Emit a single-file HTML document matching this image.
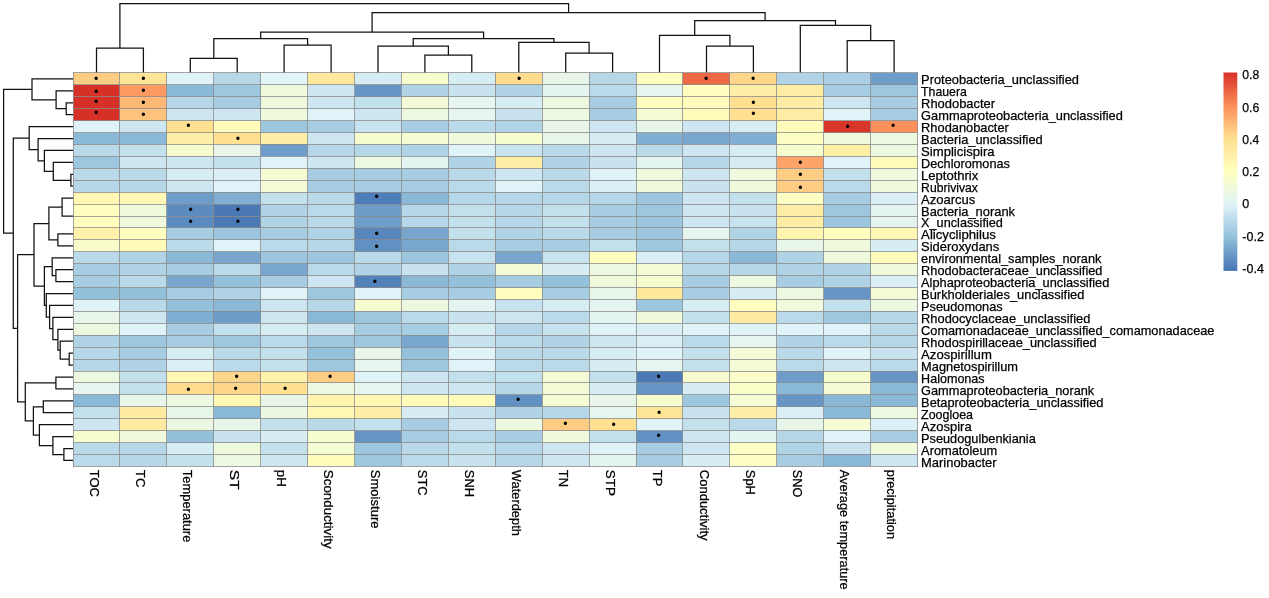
<!DOCTYPE html>
<html><head><meta charset="utf-8"><title>Heatmap</title>
<style>html,body{margin:0;padding:0;background:#fff}svg{display:block}text{font-family:"Liberation Sans",Arial,sans-serif;fill:#000;stroke:#000;stroke-width:0.25px}.d{fill:none;stroke:#111;stroke-width:1.25;stroke-linecap:square}.c rect{stroke:none;shape-rendering:crispEdges}.rl text{font-size:13px}.cl text{font-size:13px}.lg text{font-size:13.1px}.dot text{font-size:12.2px;text-anchor:middle;stroke:none}</style></head><body>
<svg width="1269" height="598" viewBox="0 0 1269 598">
<rect width="1269" height="598" fill="#fff"/>
<path class="d" d="M96.5 72.7V48.2H143.4V72.7M190.3 72.7V58.3H237.2V72.7M284.1 72.7V45.1H331.1V72.7M213.8 58.3V38.5H307.6V45.1M424.9 72.7V55.1H471.8V72.7M378.0 72.7V46.1H448.4V55.1M565.7 72.7V53.1H612.6V72.7M518.8 72.7V42.3H589.1V53.1M413.2 46.1V38.5H554.0V42.3M260.7 38.5V32.2H483.6V38.5M706.5 72.7V46.1H753.4V72.7M659.5 72.7V35.4H729.9V46.1M847.2 72.7V40.6H894.1V72.7M800.3 72.7V25.3H870.7V40.6M694.7 35.4V20.5H835.5V25.3M372.1 32.2V12.5H765.1V20.5M119.9 48.2V3.5H568.6V12.5"/>
<path class="d" d="M72.7 102.8H66.2V114.7H72.7M72.7 90.8H56.1V108.7H66.2M72.7 78.9H32.0V99.8H56.1M72.7 174.3H70.9V186.2H72.7M72.7 162.4H53.3V180.3H70.9M72.7 150.4H44.4V171.3H53.3M72.7 138.5H38.1V160.9H44.4M72.7 126.6H29.2V149.7H38.1M72.7 198.1H62.1V216.0H72.7M72.7 233.9H57.9V245.8H72.7M62.1 207.1H48.9V239.9H57.9M72.7 269.7H55.9V281.6H72.7M72.7 257.8H52.2V275.6H55.9M72.7 353.1H69.2V365.1H72.7M72.7 341.2H60.2V359.1H69.2M72.7 329.3H57.9V350.2H60.2M72.7 317.4H52.9V339.7H57.9M72.7 305.4H49.6V328.5H52.9M72.7 293.5H46.3V317.0H49.6M52.2 266.7H44.4V305.3H46.3M48.9 223.5H34.0V286.0H44.4M72.7 377.0H55.9V388.9H72.7M72.7 400.8H43.3V412.7H72.7M72.7 448.5H63.9V460.4H72.7M72.7 436.6H52.9V454.5H63.9M72.7 424.7H39.4V445.5H52.9M43.3 406.8H33.4V435.1H39.4M55.9 382.9H25.3V420.9H33.4M34.0 254.7H17.6V401.9H25.3M29.2 138.2H13.3V328.3H17.6M32.0 89.3H3.6V233.2H13.3"/>
<g class="c">
<rect x="73.00" y="72.95" width="46.92" height="11.92" fill="#FECC83"/>
<rect x="119.92" y="72.95" width="46.92" height="11.92" fill="#FEE496"/>
<rect x="166.84" y="72.95" width="46.92" height="11.92" fill="#E0F3F8"/>
<rect x="213.77" y="72.95" width="46.92" height="11.92" fill="#B5D7E8"/>
<rect x="260.69" y="72.95" width="46.92" height="11.92" fill="#E2F4F5"/>
<rect x="307.61" y="72.95" width="46.92" height="11.92" fill="#FEE89B"/>
<rect x="354.53" y="72.95" width="46.92" height="11.92" fill="#D6EDF4"/>
<rect x="401.46" y="72.95" width="46.92" height="11.92" fill="#F7FCCF"/>
<rect x="448.38" y="72.95" width="46.92" height="11.92" fill="#D6EDF4"/>
<rect x="495.30" y="72.95" width="46.92" height="11.92" fill="#FEDB8D"/>
<rect x="542.22" y="72.95" width="46.92" height="11.92" fill="#E8F6EA"/>
<rect x="589.14" y="72.95" width="46.92" height="11.92" fill="#B5D7E8"/>
<rect x="636.07" y="72.95" width="46.92" height="11.92" fill="#FFFEBE"/>
<rect x="682.99" y="72.95" width="46.92" height="11.92" fill="#ED6845"/>
<rect x="729.91" y="72.95" width="46.92" height="11.92" fill="#FED689"/>
<rect x="776.83" y="72.95" width="46.92" height="11.92" fill="#B0D3E6"/>
<rect x="823.76" y="72.95" width="46.92" height="11.92" fill="#ABD0E5"/>
<rect x="870.68" y="72.95" width="46.92" height="11.92" fill="#6E9DC9"/>
<rect x="73.00" y="84.87" width="46.92" height="11.92" fill="#D73027"/>
<rect x="119.92" y="84.87" width="46.92" height="11.92" fill="#FC9A61"/>
<rect x="166.84" y="84.87" width="46.92" height="11.92" fill="#8AB8D7"/>
<rect x="213.77" y="84.87" width="46.92" height="11.92" fill="#9DC7DF"/>
<rect x="260.69" y="84.87" width="46.92" height="11.92" fill="#EFF9DC"/>
<rect x="307.61" y="84.87" width="46.92" height="11.92" fill="#CDE6F1"/>
<rect x="354.53" y="84.87" width="46.92" height="11.92" fill="#6594C5"/>
<rect x="401.46" y="84.87" width="46.92" height="11.92" fill="#B0D3E6"/>
<rect x="448.38" y="84.87" width="46.92" height="11.92" fill="#C8E3EF"/>
<rect x="495.30" y="84.87" width="46.92" height="11.92" fill="#B0D3E6"/>
<rect x="542.22" y="84.87" width="46.92" height="11.92" fill="#E4F4F1"/>
<rect x="589.14" y="84.87" width="46.92" height="11.92" fill="#BADAEA"/>
<rect x="636.07" y="84.87" width="46.92" height="11.92" fill="#E6F5EE"/>
<rect x="682.99" y="84.87" width="46.92" height="11.92" fill="#FFFEBE"/>
<rect x="729.91" y="84.87" width="46.92" height="11.92" fill="#FEEFA7"/>
<rect x="776.83" y="84.87" width="46.92" height="11.92" fill="#FEEDA4"/>
<rect x="823.76" y="84.87" width="46.92" height="11.92" fill="#A7CDE3"/>
<rect x="870.68" y="84.87" width="46.92" height="11.92" fill="#9DC7DF"/>
<rect x="73.00" y="96.80" width="46.92" height="11.92" fill="#D73027"/>
<rect x="119.92" y="96.80" width="46.92" height="11.92" fill="#FDB875"/>
<rect x="166.84" y="96.80" width="46.92" height="11.92" fill="#B5D7E8"/>
<rect x="213.77" y="96.80" width="46.92" height="11.92" fill="#A7CDE3"/>
<rect x="260.69" y="96.80" width="46.92" height="11.92" fill="#EFF9DC"/>
<rect x="307.61" y="96.80" width="46.92" height="11.92" fill="#CDE6F1"/>
<rect x="354.53" y="96.80" width="46.92" height="11.92" fill="#C3E0ED"/>
<rect x="401.46" y="96.80" width="46.92" height="11.92" fill="#F3FAD5"/>
<rect x="448.38" y="96.80" width="46.92" height="11.92" fill="#E6F5EE"/>
<rect x="495.30" y="96.80" width="46.92" height="11.92" fill="#D6EDF4"/>
<rect x="542.22" y="96.80" width="46.92" height="11.92" fill="#EDF8E0"/>
<rect x="589.14" y="96.80" width="46.92" height="11.92" fill="#A7CDE3"/>
<rect x="636.07" y="96.80" width="46.92" height="11.92" fill="#FFFEBE"/>
<rect x="682.99" y="96.80" width="46.92" height="11.92" fill="#FFFCBB"/>
<rect x="729.91" y="96.80" width="46.92" height="11.92" fill="#FEE090"/>
<rect x="776.83" y="96.80" width="46.92" height="11.92" fill="#FEEDA4"/>
<rect x="823.76" y="96.80" width="46.92" height="11.92" fill="#CDE6F1"/>
<rect x="870.68" y="96.80" width="46.92" height="11.92" fill="#A7CDE3"/>
<rect x="73.00" y="108.72" width="46.92" height="11.92" fill="#D73027"/>
<rect x="119.92" y="108.72" width="46.92" height="11.92" fill="#FDC27C"/>
<rect x="166.84" y="108.72" width="46.92" height="11.92" fill="#CDE6F1"/>
<rect x="213.77" y="108.72" width="46.92" height="11.92" fill="#CDE6F1"/>
<rect x="260.69" y="108.72" width="46.92" height="11.92" fill="#EFF9DC"/>
<rect x="307.61" y="108.72" width="46.92" height="11.92" fill="#E0F3F8"/>
<rect x="354.53" y="108.72" width="46.92" height="11.92" fill="#CDE6F1"/>
<rect x="401.46" y="108.72" width="46.92" height="11.92" fill="#EDF8E0"/>
<rect x="448.38" y="108.72" width="46.92" height="11.92" fill="#E6F5EE"/>
<rect x="495.30" y="108.72" width="46.92" height="11.92" fill="#C8E3EF"/>
<rect x="542.22" y="108.72" width="46.92" height="11.92" fill="#EDF8E0"/>
<rect x="589.14" y="108.72" width="46.92" height="11.92" fill="#A7CDE3"/>
<rect x="636.07" y="108.72" width="46.92" height="11.92" fill="#F5FBD2"/>
<rect x="682.99" y="108.72" width="46.92" height="11.92" fill="#FFFCBB"/>
<rect x="729.91" y="108.72" width="46.92" height="11.92" fill="#FEE090"/>
<rect x="776.83" y="108.72" width="46.92" height="11.92" fill="#FEEDA4"/>
<rect x="823.76" y="108.72" width="46.92" height="11.92" fill="#E0F3F8"/>
<rect x="870.68" y="108.72" width="46.92" height="11.92" fill="#A7CDE3"/>
<rect x="73.00" y="120.64" width="46.92" height="11.92" fill="#E0F3F8"/>
<rect x="119.92" y="120.64" width="46.92" height="11.92" fill="#CDE6F1"/>
<rect x="166.84" y="120.64" width="46.92" height="11.92" fill="#FEE090"/>
<rect x="213.77" y="120.64" width="46.92" height="11.92" fill="#FFFCBB"/>
<rect x="260.69" y="120.64" width="46.92" height="11.92" fill="#9DC7DF"/>
<rect x="307.61" y="120.64" width="46.92" height="11.92" fill="#A7CDE3"/>
<rect x="354.53" y="120.64" width="46.92" height="11.92" fill="#C8E3EF"/>
<rect x="401.46" y="120.64" width="46.92" height="11.92" fill="#A7CDE3"/>
<rect x="448.38" y="120.64" width="46.92" height="11.92" fill="#BADAEA"/>
<rect x="495.30" y="120.64" width="46.92" height="11.92" fill="#B0D3E6"/>
<rect x="542.22" y="120.64" width="46.92" height="11.92" fill="#E8F6EA"/>
<rect x="589.14" y="120.64" width="46.92" height="11.92" fill="#CDE6F1"/>
<rect x="636.07" y="120.64" width="46.92" height="11.92" fill="#E8F6EA"/>
<rect x="682.99" y="120.64" width="46.92" height="11.92" fill="#CDE6F1"/>
<rect x="729.91" y="120.64" width="46.92" height="11.92" fill="#D6EDF4"/>
<rect x="776.83" y="120.64" width="46.92" height="11.92" fill="#FFFCBB"/>
<rect x="823.76" y="120.64" width="46.92" height="11.92" fill="#D9362A"/>
<rect x="870.68" y="120.64" width="46.92" height="11.92" fill="#FC905B"/>
<rect x="73.00" y="132.56" width="46.92" height="11.92" fill="#8AB8D7"/>
<rect x="119.92" y="132.56" width="46.92" height="11.92" fill="#8AB8D7"/>
<rect x="166.84" y="132.56" width="46.92" height="11.92" fill="#FEEFA7"/>
<rect x="213.77" y="132.56" width="46.92" height="11.92" fill="#FEE090"/>
<rect x="260.69" y="132.56" width="46.92" height="11.92" fill="#FEEFA7"/>
<rect x="307.61" y="132.56" width="46.92" height="11.92" fill="#CDE6F1"/>
<rect x="354.53" y="132.56" width="46.92" height="11.92" fill="#F7FCCF"/>
<rect x="401.46" y="132.56" width="46.92" height="11.92" fill="#F5FBD2"/>
<rect x="448.38" y="132.56" width="46.92" height="11.92" fill="#EFF9DC"/>
<rect x="495.30" y="132.56" width="46.92" height="11.92" fill="#F7FCCF"/>
<rect x="542.22" y="132.56" width="46.92" height="11.92" fill="#E8F6EA"/>
<rect x="589.14" y="132.56" width="46.92" height="11.92" fill="#D6EDF4"/>
<rect x="636.07" y="132.56" width="46.92" height="11.92" fill="#81AFD3"/>
<rect x="682.99" y="132.56" width="46.92" height="11.92" fill="#78A6CE"/>
<rect x="729.91" y="132.56" width="46.92" height="11.92" fill="#81AFD3"/>
<rect x="776.83" y="132.56" width="46.92" height="11.92" fill="#FCFEC4"/>
<rect x="823.76" y="132.56" width="46.92" height="11.92" fill="#EFF9DC"/>
<rect x="870.68" y="132.56" width="46.92" height="11.92" fill="#EDF8E0"/>
<rect x="73.00" y="144.49" width="46.92" height="11.92" fill="#BADAEA"/>
<rect x="119.92" y="144.49" width="46.92" height="11.92" fill="#C3E0ED"/>
<rect x="166.84" y="144.49" width="46.92" height="11.92" fill="#F7FCCF"/>
<rect x="213.77" y="144.49" width="46.92" height="11.92" fill="#E8F6EA"/>
<rect x="260.69" y="144.49" width="46.92" height="11.92" fill="#6E9DC9"/>
<rect x="307.61" y="144.49" width="46.92" height="11.92" fill="#B5D7E8"/>
<rect x="354.53" y="144.49" width="46.92" height="11.92" fill="#B5D7E8"/>
<rect x="401.46" y="144.49" width="46.92" height="11.92" fill="#B0D3E6"/>
<rect x="448.38" y="144.49" width="46.92" height="11.92" fill="#E0F3F8"/>
<rect x="495.30" y="144.49" width="46.92" height="11.92" fill="#C8E3EF"/>
<rect x="542.22" y="144.49" width="46.92" height="11.92" fill="#BADAEA"/>
<rect x="589.14" y="144.49" width="46.92" height="11.92" fill="#CDE6F1"/>
<rect x="636.07" y="144.49" width="46.92" height="11.92" fill="#BADAEA"/>
<rect x="682.99" y="144.49" width="46.92" height="11.92" fill="#CDE6F1"/>
<rect x="729.91" y="144.49" width="46.92" height="11.92" fill="#D6EDF4"/>
<rect x="776.83" y="144.49" width="46.92" height="11.92" fill="#F7FCCF"/>
<rect x="823.76" y="144.49" width="46.92" height="11.92" fill="#FEEFA7"/>
<rect x="870.68" y="144.49" width="46.92" height="11.92" fill="#EDF8E0"/>
<rect x="73.00" y="156.41" width="46.92" height="11.92" fill="#9DC7DF"/>
<rect x="119.92" y="156.41" width="46.92" height="11.92" fill="#CDE6F1"/>
<rect x="166.84" y="156.41" width="46.92" height="11.92" fill="#CDE6F1"/>
<rect x="213.77" y="156.41" width="46.92" height="11.92" fill="#C3E0ED"/>
<rect x="260.69" y="156.41" width="46.92" height="11.92" fill="#E0F3F8"/>
<rect x="307.61" y="156.41" width="46.92" height="11.92" fill="#CDE6F1"/>
<rect x="354.53" y="156.41" width="46.92" height="11.92" fill="#EDF8E0"/>
<rect x="401.46" y="156.41" width="46.92" height="11.92" fill="#E4F4F1"/>
<rect x="448.38" y="156.41" width="46.92" height="11.92" fill="#B0D3E6"/>
<rect x="495.30" y="156.41" width="46.92" height="11.92" fill="#FEEDA4"/>
<rect x="542.22" y="156.41" width="46.92" height="11.92" fill="#B0D3E6"/>
<rect x="589.14" y="156.41" width="46.92" height="11.92" fill="#C8E3EF"/>
<rect x="636.07" y="156.41" width="46.92" height="11.92" fill="#E4F4F1"/>
<rect x="682.99" y="156.41" width="46.92" height="11.92" fill="#B5D7E8"/>
<rect x="729.91" y="156.41" width="46.92" height="11.92" fill="#D6EDF4"/>
<rect x="776.83" y="156.41" width="46.92" height="11.92" fill="#FDA468"/>
<rect x="823.76" y="156.41" width="46.92" height="11.92" fill="#E0F3F8"/>
<rect x="870.68" y="156.41" width="46.92" height="11.92" fill="#FFFCBB"/>
<rect x="73.00" y="168.33" width="46.92" height="11.92" fill="#BADAEA"/>
<rect x="119.92" y="168.33" width="46.92" height="11.92" fill="#BADAEA"/>
<rect x="166.84" y="168.33" width="46.92" height="11.92" fill="#D6EDF4"/>
<rect x="213.77" y="168.33" width="46.92" height="11.92" fill="#DBF0F6"/>
<rect x="260.69" y="168.33" width="46.92" height="11.92" fill="#F5FBD2"/>
<rect x="307.61" y="168.33" width="46.92" height="11.92" fill="#A7CDE3"/>
<rect x="354.53" y="168.33" width="46.92" height="11.92" fill="#A7CDE3"/>
<rect x="401.46" y="168.33" width="46.92" height="11.92" fill="#A7CDE3"/>
<rect x="448.38" y="168.33" width="46.92" height="11.92" fill="#BADAEA"/>
<rect x="495.30" y="168.33" width="46.92" height="11.92" fill="#CDE6F1"/>
<rect x="542.22" y="168.33" width="46.92" height="11.92" fill="#BADAEA"/>
<rect x="589.14" y="168.33" width="46.92" height="11.92" fill="#E0F3F8"/>
<rect x="636.07" y="168.33" width="46.92" height="11.92" fill="#EFF9DC"/>
<rect x="682.99" y="168.33" width="46.92" height="11.92" fill="#CDE6F1"/>
<rect x="729.91" y="168.33" width="46.92" height="11.92" fill="#EFF9DC"/>
<rect x="776.83" y="168.33" width="46.92" height="11.92" fill="#FECC83"/>
<rect x="823.76" y="168.33" width="46.92" height="11.92" fill="#C3E0ED"/>
<rect x="870.68" y="168.33" width="46.92" height="11.92" fill="#EFF9DC"/>
<rect x="73.00" y="180.25" width="46.92" height="11.92" fill="#B5D7E8"/>
<rect x="119.92" y="180.25" width="46.92" height="11.92" fill="#B5D7E8"/>
<rect x="166.84" y="180.25" width="46.92" height="11.92" fill="#CDE6F1"/>
<rect x="213.77" y="180.25" width="46.92" height="11.92" fill="#E0F3F8"/>
<rect x="260.69" y="180.25" width="46.92" height="11.92" fill="#F3FAD5"/>
<rect x="307.61" y="180.25" width="46.92" height="11.92" fill="#A7CDE3"/>
<rect x="354.53" y="180.25" width="46.92" height="11.92" fill="#A7CDE3"/>
<rect x="401.46" y="180.25" width="46.92" height="11.92" fill="#A7CDE3"/>
<rect x="448.38" y="180.25" width="46.92" height="11.92" fill="#BADAEA"/>
<rect x="495.30" y="180.25" width="46.92" height="11.92" fill="#E0F3F8"/>
<rect x="542.22" y="180.25" width="46.92" height="11.92" fill="#BADAEA"/>
<rect x="589.14" y="180.25" width="46.92" height="11.92" fill="#DBF0F6"/>
<rect x="636.07" y="180.25" width="46.92" height="11.92" fill="#EFF9DC"/>
<rect x="682.99" y="180.25" width="46.92" height="11.92" fill="#C8E3EF"/>
<rect x="729.91" y="180.25" width="46.92" height="11.92" fill="#EFF9DC"/>
<rect x="776.83" y="180.25" width="46.92" height="11.92" fill="#FECC83"/>
<rect x="823.76" y="180.25" width="46.92" height="11.92" fill="#BADAEA"/>
<rect x="870.68" y="180.25" width="46.92" height="11.92" fill="#EFF9DC"/>
<rect x="73.00" y="192.18" width="46.92" height="11.92" fill="#FFF7B2"/>
<rect x="119.92" y="192.18" width="46.92" height="11.92" fill="#FFF8B5"/>
<rect x="166.84" y="192.18" width="46.92" height="11.92" fill="#6E9DC9"/>
<rect x="213.77" y="192.18" width="46.92" height="11.92" fill="#81AFD3"/>
<rect x="260.69" y="192.18" width="46.92" height="11.92" fill="#C3E0ED"/>
<rect x="307.61" y="192.18" width="46.92" height="11.92" fill="#BADAEA"/>
<rect x="354.53" y="192.18" width="46.92" height="11.92" fill="#4E7EB9"/>
<rect x="401.46" y="192.18" width="46.92" height="11.92" fill="#8AB8D7"/>
<rect x="448.38" y="192.18" width="46.92" height="11.92" fill="#B5D7E8"/>
<rect x="495.30" y="192.18" width="46.92" height="11.92" fill="#B5D7E8"/>
<rect x="542.22" y="192.18" width="46.92" height="11.92" fill="#B5D7E8"/>
<rect x="589.14" y="192.18" width="46.92" height="11.92" fill="#B5D7E8"/>
<rect x="636.07" y="192.18" width="46.92" height="11.92" fill="#9DC7DF"/>
<rect x="682.99" y="192.18" width="46.92" height="11.92" fill="#CDE6F1"/>
<rect x="729.91" y="192.18" width="46.92" height="11.92" fill="#C3E0ED"/>
<rect x="776.83" y="192.18" width="46.92" height="11.92" fill="#FCFEC4"/>
<rect x="823.76" y="192.18" width="46.92" height="11.92" fill="#A7CDE3"/>
<rect x="870.68" y="192.18" width="46.92" height="11.92" fill="#DBF0F6"/>
<rect x="73.00" y="204.10" width="46.92" height="11.92" fill="#FFFEBE"/>
<rect x="119.92" y="204.10" width="46.92" height="11.92" fill="#EFF9DC"/>
<rect x="166.84" y="204.10" width="46.92" height="11.92" fill="#5C8BC0"/>
<rect x="213.77" y="204.10" width="46.92" height="11.92" fill="#4A79B6"/>
<rect x="260.69" y="204.10" width="46.92" height="11.92" fill="#B0D3E6"/>
<rect x="307.61" y="204.10" width="46.92" height="11.92" fill="#BADAEA"/>
<rect x="354.53" y="204.10" width="46.92" height="11.92" fill="#6E9DC9"/>
<rect x="401.46" y="204.10" width="46.92" height="11.92" fill="#B5D7E8"/>
<rect x="448.38" y="204.10" width="46.92" height="11.92" fill="#C3E0ED"/>
<rect x="495.30" y="204.10" width="46.92" height="11.92" fill="#B5D7E8"/>
<rect x="542.22" y="204.10" width="46.92" height="11.92" fill="#C3E0ED"/>
<rect x="589.14" y="204.10" width="46.92" height="11.92" fill="#A7CDE3"/>
<rect x="636.07" y="204.10" width="46.92" height="11.92" fill="#9DC7DF"/>
<rect x="682.99" y="204.10" width="46.92" height="11.92" fill="#CDE6F1"/>
<rect x="729.91" y="204.10" width="46.92" height="11.92" fill="#C8E3EF"/>
<rect x="776.83" y="204.10" width="46.92" height="11.92" fill="#FEEDA4"/>
<rect x="823.76" y="204.10" width="46.92" height="11.92" fill="#9DC7DF"/>
<rect x="870.68" y="204.10" width="46.92" height="11.92" fill="#E4F4F1"/>
<rect x="73.00" y="216.02" width="46.92" height="11.92" fill="#FFFEBE"/>
<rect x="119.92" y="216.02" width="46.92" height="11.92" fill="#EFF9DC"/>
<rect x="166.84" y="216.02" width="46.92" height="11.92" fill="#5C8BC0"/>
<rect x="213.77" y="216.02" width="46.92" height="11.92" fill="#4A79B6"/>
<rect x="260.69" y="216.02" width="46.92" height="11.92" fill="#B0D3E6"/>
<rect x="307.61" y="216.02" width="46.92" height="11.92" fill="#BADAEA"/>
<rect x="354.53" y="216.02" width="46.92" height="11.92" fill="#6E9DC9"/>
<rect x="401.46" y="216.02" width="46.92" height="11.92" fill="#B5D7E8"/>
<rect x="448.38" y="216.02" width="46.92" height="11.92" fill="#C3E0ED"/>
<rect x="495.30" y="216.02" width="46.92" height="11.92" fill="#B5D7E8"/>
<rect x="542.22" y="216.02" width="46.92" height="11.92" fill="#C3E0ED"/>
<rect x="589.14" y="216.02" width="46.92" height="11.92" fill="#A7CDE3"/>
<rect x="636.07" y="216.02" width="46.92" height="11.92" fill="#9DC7DF"/>
<rect x="682.99" y="216.02" width="46.92" height="11.92" fill="#CDE6F1"/>
<rect x="729.91" y="216.02" width="46.92" height="11.92" fill="#C8E3EF"/>
<rect x="776.83" y="216.02" width="46.92" height="11.92" fill="#FEEDA4"/>
<rect x="823.76" y="216.02" width="46.92" height="11.92" fill="#9DC7DF"/>
<rect x="870.68" y="216.02" width="46.92" height="11.92" fill="#E4F4F1"/>
<rect x="73.00" y="227.95" width="46.92" height="11.92" fill="#FFF1AA"/>
<rect x="119.92" y="227.95" width="46.92" height="11.92" fill="#FFFEBE"/>
<rect x="166.84" y="227.95" width="46.92" height="11.92" fill="#A7CDE3"/>
<rect x="213.77" y="227.95" width="46.92" height="11.92" fill="#9DC7DF"/>
<rect x="260.69" y="227.95" width="46.92" height="11.92" fill="#A7CDE3"/>
<rect x="307.61" y="227.95" width="46.92" height="11.92" fill="#B0D3E6"/>
<rect x="354.53" y="227.95" width="46.92" height="11.92" fill="#5787BD"/>
<rect x="401.46" y="227.95" width="46.92" height="11.92" fill="#78A6CE"/>
<rect x="448.38" y="227.95" width="46.92" height="11.92" fill="#C3E0ED"/>
<rect x="495.30" y="227.95" width="46.92" height="11.92" fill="#B0D3E6"/>
<rect x="542.22" y="227.95" width="46.92" height="11.92" fill="#BADAEA"/>
<rect x="589.14" y="227.95" width="46.92" height="11.92" fill="#A7CDE3"/>
<rect x="636.07" y="227.95" width="46.92" height="11.92" fill="#9DC7DF"/>
<rect x="682.99" y="227.95" width="46.92" height="11.92" fill="#E6F5EE"/>
<rect x="729.91" y="227.95" width="46.92" height="11.92" fill="#B0D3E6"/>
<rect x="776.83" y="227.95" width="46.92" height="11.92" fill="#FFF5AF"/>
<rect x="823.76" y="227.95" width="46.92" height="11.92" fill="#FFFEBE"/>
<rect x="870.68" y="227.95" width="46.92" height="11.92" fill="#FFF7B2"/>
<rect x="73.00" y="239.87" width="46.92" height="11.92" fill="#F8FCCB"/>
<rect x="119.92" y="239.87" width="46.92" height="11.92" fill="#FFFAB8"/>
<rect x="166.84" y="239.87" width="46.92" height="11.92" fill="#BADAEA"/>
<rect x="213.77" y="239.87" width="46.92" height="11.92" fill="#E0F3F8"/>
<rect x="260.69" y="239.87" width="46.92" height="11.92" fill="#BADAEA"/>
<rect x="307.61" y="239.87" width="46.92" height="11.92" fill="#B5D7E8"/>
<rect x="354.53" y="239.87" width="46.92" height="11.92" fill="#6190C2"/>
<rect x="401.46" y="239.87" width="46.92" height="11.92" fill="#78A6CE"/>
<rect x="448.38" y="239.87" width="46.92" height="11.92" fill="#BADAEA"/>
<rect x="495.30" y="239.87" width="46.92" height="11.92" fill="#A7CDE3"/>
<rect x="542.22" y="239.87" width="46.92" height="11.92" fill="#A7CDE3"/>
<rect x="589.14" y="239.87" width="46.92" height="11.92" fill="#C3E0ED"/>
<rect x="636.07" y="239.87" width="46.92" height="11.92" fill="#9DC7DF"/>
<rect x="682.99" y="239.87" width="46.92" height="11.92" fill="#C3E0ED"/>
<rect x="729.91" y="239.87" width="46.92" height="11.92" fill="#B5D7E8"/>
<rect x="776.83" y="239.87" width="46.92" height="11.92" fill="#E8F6EA"/>
<rect x="823.76" y="239.87" width="46.92" height="11.92" fill="#EFF9DC"/>
<rect x="870.68" y="239.87" width="46.92" height="11.92" fill="#D6EDF4"/>
<rect x="73.00" y="251.79" width="46.92" height="11.92" fill="#BADAEA"/>
<rect x="119.92" y="251.79" width="46.92" height="11.92" fill="#B0D3E6"/>
<rect x="166.84" y="251.79" width="46.92" height="11.92" fill="#8AB8D7"/>
<rect x="213.77" y="251.79" width="46.92" height="11.92" fill="#78A6CE"/>
<rect x="260.69" y="251.79" width="46.92" height="11.92" fill="#9DC7DF"/>
<rect x="307.61" y="251.79" width="46.92" height="11.92" fill="#9DC7DF"/>
<rect x="354.53" y="251.79" width="46.92" height="11.92" fill="#BADAEA"/>
<rect x="401.46" y="251.79" width="46.92" height="11.92" fill="#9DC7DF"/>
<rect x="448.38" y="251.79" width="46.92" height="11.92" fill="#C8E3EF"/>
<rect x="495.30" y="251.79" width="46.92" height="11.92" fill="#78A6CE"/>
<rect x="542.22" y="251.79" width="46.92" height="11.92" fill="#C8E3EF"/>
<rect x="589.14" y="251.79" width="46.92" height="11.92" fill="#FFFEBE"/>
<rect x="636.07" y="251.79" width="46.92" height="11.92" fill="#DBF0F6"/>
<rect x="682.99" y="251.79" width="46.92" height="11.92" fill="#B5D7E8"/>
<rect x="729.91" y="251.79" width="46.92" height="11.92" fill="#8AB8D7"/>
<rect x="776.83" y="251.79" width="46.92" height="11.92" fill="#B0D3E6"/>
<rect x="823.76" y="251.79" width="46.92" height="11.92" fill="#EFF9DC"/>
<rect x="870.68" y="251.79" width="46.92" height="11.92" fill="#FFFCBB"/>
<rect x="73.00" y="263.71" width="46.92" height="11.92" fill="#A7CDE3"/>
<rect x="119.92" y="263.71" width="46.92" height="11.92" fill="#B0D3E6"/>
<rect x="166.84" y="263.71" width="46.92" height="11.92" fill="#A7CDE3"/>
<rect x="213.77" y="263.71" width="46.92" height="11.92" fill="#BADAEA"/>
<rect x="260.69" y="263.71" width="46.92" height="11.92" fill="#78A6CE"/>
<rect x="307.61" y="263.71" width="46.92" height="11.92" fill="#BADAEA"/>
<rect x="354.53" y="263.71" width="46.92" height="11.92" fill="#B0D3E6"/>
<rect x="401.46" y="263.71" width="46.92" height="11.92" fill="#C8E3EF"/>
<rect x="448.38" y="263.71" width="46.92" height="11.92" fill="#B0D3E6"/>
<rect x="495.30" y="263.71" width="46.92" height="11.92" fill="#F3FAD5"/>
<rect x="542.22" y="263.71" width="46.92" height="11.92" fill="#D6EDF4"/>
<rect x="589.14" y="263.71" width="46.92" height="11.92" fill="#EDF8E0"/>
<rect x="636.07" y="263.71" width="46.92" height="11.92" fill="#F5FBD2"/>
<rect x="682.99" y="263.71" width="46.92" height="11.92" fill="#B5D7E8"/>
<rect x="729.91" y="263.71" width="46.92" height="11.92" fill="#B5D7E8"/>
<rect x="776.83" y="263.71" width="46.92" height="11.92" fill="#B0D3E6"/>
<rect x="823.76" y="263.71" width="46.92" height="11.92" fill="#B0D3E6"/>
<rect x="870.68" y="263.71" width="46.92" height="11.92" fill="#EFF9DC"/>
<rect x="73.00" y="275.64" width="46.92" height="11.92" fill="#A7CDE3"/>
<rect x="119.92" y="275.64" width="46.92" height="11.92" fill="#BADAEA"/>
<rect x="166.84" y="275.64" width="46.92" height="11.92" fill="#78A6CE"/>
<rect x="213.77" y="275.64" width="46.92" height="11.92" fill="#93C1DC"/>
<rect x="260.69" y="275.64" width="46.92" height="11.92" fill="#A7CDE3"/>
<rect x="307.61" y="275.64" width="46.92" height="11.92" fill="#CDE6F1"/>
<rect x="354.53" y="275.64" width="46.92" height="11.92" fill="#5382BB"/>
<rect x="401.46" y="275.64" width="46.92" height="11.92" fill="#8AB8D7"/>
<rect x="448.38" y="275.64" width="46.92" height="11.92" fill="#93C1DC"/>
<rect x="495.30" y="275.64" width="46.92" height="11.92" fill="#A7CDE3"/>
<rect x="542.22" y="275.64" width="46.92" height="11.92" fill="#93C1DC"/>
<rect x="589.14" y="275.64" width="46.92" height="11.92" fill="#EFF9DC"/>
<rect x="636.07" y="275.64" width="46.92" height="11.92" fill="#F7FCCF"/>
<rect x="682.99" y="275.64" width="46.92" height="11.92" fill="#A7CDE3"/>
<rect x="729.91" y="275.64" width="46.92" height="11.92" fill="#EDF8E0"/>
<rect x="776.83" y="275.64" width="46.92" height="11.92" fill="#A7CDE3"/>
<rect x="823.76" y="275.64" width="46.92" height="11.92" fill="#B0D3E6"/>
<rect x="870.68" y="275.64" width="46.92" height="11.92" fill="#DBF0F6"/>
<rect x="73.00" y="287.56" width="46.92" height="11.92" fill="#93C1DC"/>
<rect x="119.92" y="287.56" width="46.92" height="11.92" fill="#93C1DC"/>
<rect x="166.84" y="287.56" width="46.92" height="11.92" fill="#A7CDE3"/>
<rect x="213.77" y="287.56" width="46.92" height="11.92" fill="#B0D3E6"/>
<rect x="260.69" y="287.56" width="46.92" height="11.92" fill="#E0F3F8"/>
<rect x="307.61" y="287.56" width="46.92" height="11.92" fill="#9DC7DF"/>
<rect x="354.53" y="287.56" width="46.92" height="11.92" fill="#E0F3F8"/>
<rect x="401.46" y="287.56" width="46.92" height="11.92" fill="#A7CDE3"/>
<rect x="448.38" y="287.56" width="46.92" height="11.92" fill="#A7CDE3"/>
<rect x="495.30" y="287.56" width="46.92" height="11.92" fill="#FFFEBE"/>
<rect x="542.22" y="287.56" width="46.92" height="11.92" fill="#A7CDE3"/>
<rect x="589.14" y="287.56" width="46.92" height="11.92" fill="#E8F6EA"/>
<rect x="636.07" y="287.56" width="46.92" height="11.92" fill="#FEE89B"/>
<rect x="682.99" y="287.56" width="46.92" height="11.92" fill="#A7CDE3"/>
<rect x="729.91" y="287.56" width="46.92" height="11.92" fill="#D6EDF4"/>
<rect x="776.83" y="287.56" width="46.92" height="11.92" fill="#EDF8E0"/>
<rect x="823.76" y="287.56" width="46.92" height="11.92" fill="#6594C5"/>
<rect x="870.68" y="287.56" width="46.92" height="11.92" fill="#F3FAD5"/>
<rect x="73.00" y="299.48" width="46.92" height="11.92" fill="#E0F3F8"/>
<rect x="119.92" y="299.48" width="46.92" height="11.92" fill="#BADAEA"/>
<rect x="166.84" y="299.48" width="46.92" height="11.92" fill="#93C1DC"/>
<rect x="213.77" y="299.48" width="46.92" height="11.92" fill="#8AB8D7"/>
<rect x="260.69" y="299.48" width="46.92" height="11.92" fill="#CDE6F1"/>
<rect x="307.61" y="299.48" width="46.92" height="11.92" fill="#B5D7E8"/>
<rect x="354.53" y="299.48" width="46.92" height="11.92" fill="#F7FCCF"/>
<rect x="401.46" y="299.48" width="46.92" height="11.92" fill="#EDF8E0"/>
<rect x="448.38" y="299.48" width="46.92" height="11.92" fill="#E4F4F1"/>
<rect x="495.30" y="299.48" width="46.92" height="11.92" fill="#C8E3EF"/>
<rect x="542.22" y="299.48" width="46.92" height="11.92" fill="#D6EDF4"/>
<rect x="589.14" y="299.48" width="46.92" height="11.92" fill="#E4F4F1"/>
<rect x="636.07" y="299.48" width="46.92" height="11.92" fill="#9DC7DF"/>
<rect x="682.99" y="299.48" width="46.92" height="11.92" fill="#D6EDF4"/>
<rect x="729.91" y="299.48" width="46.92" height="11.92" fill="#FFFEBE"/>
<rect x="776.83" y="299.48" width="46.92" height="11.92" fill="#EFF9DC"/>
<rect x="823.76" y="299.48" width="46.92" height="11.92" fill="#C3E0ED"/>
<rect x="870.68" y="299.48" width="46.92" height="11.92" fill="#EDF8E0"/>
<rect x="73.00" y="311.40" width="46.92" height="11.92" fill="#E8F6EA"/>
<rect x="119.92" y="311.40" width="46.92" height="11.92" fill="#CDE6F1"/>
<rect x="166.84" y="311.40" width="46.92" height="11.92" fill="#81AFD3"/>
<rect x="213.77" y="311.40" width="46.92" height="11.92" fill="#6E9DC9"/>
<rect x="260.69" y="311.40" width="46.92" height="11.92" fill="#CDE6F1"/>
<rect x="307.61" y="311.40" width="46.92" height="11.92" fill="#8AB8D7"/>
<rect x="354.53" y="311.40" width="46.92" height="11.92" fill="#9DC7DF"/>
<rect x="401.46" y="311.40" width="46.92" height="11.92" fill="#BADAEA"/>
<rect x="448.38" y="311.40" width="46.92" height="11.92" fill="#C8E3EF"/>
<rect x="495.30" y="311.40" width="46.92" height="11.92" fill="#CDE6F1"/>
<rect x="542.22" y="311.40" width="46.92" height="11.92" fill="#BADAEA"/>
<rect x="589.14" y="311.40" width="46.92" height="11.92" fill="#E4F4F1"/>
<rect x="636.07" y="311.40" width="46.92" height="11.92" fill="#EFF9DC"/>
<rect x="682.99" y="311.40" width="46.92" height="11.92" fill="#C3E0ED"/>
<rect x="729.91" y="311.40" width="46.92" height="11.92" fill="#FEEBA1"/>
<rect x="776.83" y="311.40" width="46.92" height="11.92" fill="#BADAEA"/>
<rect x="823.76" y="311.40" width="46.92" height="11.92" fill="#9DC7DF"/>
<rect x="870.68" y="311.40" width="46.92" height="11.92" fill="#B5D7E8"/>
<rect x="73.00" y="323.33" width="46.92" height="11.92" fill="#EDF8E0"/>
<rect x="119.92" y="323.33" width="46.92" height="11.92" fill="#E0F3F8"/>
<rect x="166.84" y="323.33" width="46.92" height="11.92" fill="#A7CDE3"/>
<rect x="213.77" y="323.33" width="46.92" height="11.92" fill="#C3E0ED"/>
<rect x="260.69" y="323.33" width="46.92" height="11.92" fill="#D6EDF4"/>
<rect x="307.61" y="323.33" width="46.92" height="11.92" fill="#CDE6F1"/>
<rect x="354.53" y="323.33" width="46.92" height="11.92" fill="#A7CDE3"/>
<rect x="401.46" y="323.33" width="46.92" height="11.92" fill="#A7CDE3"/>
<rect x="448.38" y="323.33" width="46.92" height="11.92" fill="#D6EDF4"/>
<rect x="495.30" y="323.33" width="46.92" height="11.92" fill="#B5D7E8"/>
<rect x="542.22" y="323.33" width="46.92" height="11.92" fill="#C8E3EF"/>
<rect x="589.14" y="323.33" width="46.92" height="11.92" fill="#E0F3F8"/>
<rect x="636.07" y="323.33" width="46.92" height="11.92" fill="#DBF0F6"/>
<rect x="682.99" y="323.33" width="46.92" height="11.92" fill="#E0F3F8"/>
<rect x="729.91" y="323.33" width="46.92" height="11.92" fill="#E0F3F8"/>
<rect x="776.83" y="323.33" width="46.92" height="11.92" fill="#E0F3F8"/>
<rect x="823.76" y="323.33" width="46.92" height="11.92" fill="#E0F3F8"/>
<rect x="870.68" y="323.33" width="46.92" height="11.92" fill="#BADAEA"/>
<rect x="73.00" y="335.25" width="46.92" height="11.92" fill="#B0D3E6"/>
<rect x="119.92" y="335.25" width="46.92" height="11.92" fill="#9DC7DF"/>
<rect x="166.84" y="335.25" width="46.92" height="11.92" fill="#A7CDE3"/>
<rect x="213.77" y="335.25" width="46.92" height="11.92" fill="#9DC7DF"/>
<rect x="260.69" y="335.25" width="46.92" height="11.92" fill="#BADAEA"/>
<rect x="307.61" y="335.25" width="46.92" height="11.92" fill="#9DC7DF"/>
<rect x="354.53" y="335.25" width="46.92" height="11.92" fill="#9DC7DF"/>
<rect x="401.46" y="335.25" width="46.92" height="11.92" fill="#78A6CE"/>
<rect x="448.38" y="335.25" width="46.92" height="11.92" fill="#C8E3EF"/>
<rect x="495.30" y="335.25" width="46.92" height="11.92" fill="#BADAEA"/>
<rect x="542.22" y="335.25" width="46.92" height="11.92" fill="#B0D3E6"/>
<rect x="589.14" y="335.25" width="46.92" height="11.92" fill="#CDE6F1"/>
<rect x="636.07" y="335.25" width="46.92" height="11.92" fill="#DBF0F6"/>
<rect x="682.99" y="335.25" width="46.92" height="11.92" fill="#BADAEA"/>
<rect x="729.91" y="335.25" width="46.92" height="11.92" fill="#E6F5EE"/>
<rect x="776.83" y="335.25" width="46.92" height="11.92" fill="#B0D3E6"/>
<rect x="823.76" y="335.25" width="46.92" height="11.92" fill="#BADAEA"/>
<rect x="870.68" y="335.25" width="46.92" height="11.92" fill="#B5D7E8"/>
<rect x="73.00" y="347.17" width="46.92" height="11.92" fill="#B5D7E8"/>
<rect x="119.92" y="347.17" width="46.92" height="11.92" fill="#A7CDE3"/>
<rect x="166.84" y="347.17" width="46.92" height="11.92" fill="#D6EDF4"/>
<rect x="213.77" y="347.17" width="46.92" height="11.92" fill="#BADAEA"/>
<rect x="260.69" y="347.17" width="46.92" height="11.92" fill="#C3E0ED"/>
<rect x="307.61" y="347.17" width="46.92" height="11.92" fill="#93C1DC"/>
<rect x="354.53" y="347.17" width="46.92" height="11.92" fill="#E8F6EA"/>
<rect x="401.46" y="347.17" width="46.92" height="11.92" fill="#93C1DC"/>
<rect x="448.38" y="347.17" width="46.92" height="11.92" fill="#E0F3F8"/>
<rect x="495.30" y="347.17" width="46.92" height="11.92" fill="#BADAEA"/>
<rect x="542.22" y="347.17" width="46.92" height="11.92" fill="#BADAEA"/>
<rect x="589.14" y="347.17" width="46.92" height="11.92" fill="#D6EDF4"/>
<rect x="636.07" y="347.17" width="46.92" height="11.92" fill="#E0F3F8"/>
<rect x="682.99" y="347.17" width="46.92" height="11.92" fill="#C3E0ED"/>
<rect x="729.91" y="347.17" width="46.92" height="11.92" fill="#F3FAD5"/>
<rect x="776.83" y="347.17" width="46.92" height="11.92" fill="#BADAEA"/>
<rect x="823.76" y="347.17" width="46.92" height="11.92" fill="#E0F3F8"/>
<rect x="870.68" y="347.17" width="46.92" height="11.92" fill="#C8E3EF"/>
<rect x="73.00" y="359.10" width="46.92" height="11.92" fill="#B5D7E8"/>
<rect x="119.92" y="359.10" width="46.92" height="11.92" fill="#B0D3E6"/>
<rect x="166.84" y="359.10" width="46.92" height="11.92" fill="#DBF0F6"/>
<rect x="213.77" y="359.10" width="46.92" height="11.92" fill="#BADAEA"/>
<rect x="260.69" y="359.10" width="46.92" height="11.92" fill="#C3E0ED"/>
<rect x="307.61" y="359.10" width="46.92" height="11.92" fill="#9DC7DF"/>
<rect x="354.53" y="359.10" width="46.92" height="11.92" fill="#E6F5EE"/>
<rect x="401.46" y="359.10" width="46.92" height="11.92" fill="#9DC7DF"/>
<rect x="448.38" y="359.10" width="46.92" height="11.92" fill="#E0F3F8"/>
<rect x="495.30" y="359.10" width="46.92" height="11.92" fill="#BADAEA"/>
<rect x="542.22" y="359.10" width="46.92" height="11.92" fill="#BADAEA"/>
<rect x="589.14" y="359.10" width="46.92" height="11.92" fill="#D6EDF4"/>
<rect x="636.07" y="359.10" width="46.92" height="11.92" fill="#E6F5EE"/>
<rect x="682.99" y="359.10" width="46.92" height="11.92" fill="#C3E0ED"/>
<rect x="729.91" y="359.10" width="46.92" height="11.92" fill="#F3FAD5"/>
<rect x="776.83" y="359.10" width="46.92" height="11.92" fill="#BADAEA"/>
<rect x="823.76" y="359.10" width="46.92" height="11.92" fill="#CDE6F1"/>
<rect x="870.68" y="359.10" width="46.92" height="11.92" fill="#BADAEA"/>
<rect x="73.00" y="371.02" width="46.92" height="11.92" fill="#EDF8E0"/>
<rect x="119.92" y="371.02" width="46.92" height="11.92" fill="#C3E0ED"/>
<rect x="166.84" y="371.02" width="46.92" height="11.92" fill="#FFF7B2"/>
<rect x="213.77" y="371.02" width="46.92" height="11.92" fill="#FED689"/>
<rect x="260.69" y="371.02" width="46.92" height="11.92" fill="#FFF3AC"/>
<rect x="307.61" y="371.02" width="46.92" height="11.92" fill="#FECC83"/>
<rect x="354.53" y="371.02" width="46.92" height="11.92" fill="#E0F3F8"/>
<rect x="401.46" y="371.02" width="46.92" height="11.92" fill="#CDE6F1"/>
<rect x="448.38" y="371.02" width="46.92" height="11.92" fill="#C3E0ED"/>
<rect x="495.30" y="371.02" width="46.92" height="11.92" fill="#C3E0ED"/>
<rect x="542.22" y="371.02" width="46.92" height="11.92" fill="#F3FAD5"/>
<rect x="589.14" y="371.02" width="46.92" height="11.92" fill="#C3E0ED"/>
<rect x="636.07" y="371.02" width="46.92" height="11.92" fill="#4A79B6"/>
<rect x="682.99" y="371.02" width="46.92" height="11.92" fill="#F7FCCF"/>
<rect x="729.91" y="371.02" width="46.92" height="11.92" fill="#FAFDC8"/>
<rect x="776.83" y="371.02" width="46.92" height="11.92" fill="#6E9DC9"/>
<rect x="823.76" y="371.02" width="46.92" height="11.92" fill="#F7FCCF"/>
<rect x="870.68" y="371.02" width="46.92" height="11.92" fill="#6594C5"/>
<rect x="73.00" y="382.94" width="46.92" height="11.92" fill="#E6F5EE"/>
<rect x="119.92" y="382.94" width="46.92" height="11.92" fill="#C3E0ED"/>
<rect x="166.84" y="382.94" width="46.92" height="11.92" fill="#FEDB8D"/>
<rect x="213.77" y="382.94" width="46.92" height="11.92" fill="#FED689"/>
<rect x="260.69" y="382.94" width="46.92" height="11.92" fill="#FEE090"/>
<rect x="307.61" y="382.94" width="46.92" height="11.92" fill="#EDF8E0"/>
<rect x="354.53" y="382.94" width="46.92" height="11.92" fill="#E6F5EE"/>
<rect x="401.46" y="382.94" width="46.92" height="11.92" fill="#CDE6F1"/>
<rect x="448.38" y="382.94" width="46.92" height="11.92" fill="#CDE6F1"/>
<rect x="495.30" y="382.94" width="46.92" height="11.92" fill="#B5D7E8"/>
<rect x="542.22" y="382.94" width="46.92" height="11.92" fill="#F3FAD5"/>
<rect x="589.14" y="382.94" width="46.92" height="11.92" fill="#D6EDF4"/>
<rect x="636.07" y="382.94" width="46.92" height="11.92" fill="#6594C5"/>
<rect x="682.99" y="382.94" width="46.92" height="11.92" fill="#D6EDF4"/>
<rect x="729.91" y="382.94" width="46.92" height="11.92" fill="#FAFDC8"/>
<rect x="776.83" y="382.94" width="46.92" height="11.92" fill="#8AB8D7"/>
<rect x="823.76" y="382.94" width="46.92" height="11.92" fill="#F5FBD2"/>
<rect x="870.68" y="382.94" width="46.92" height="11.92" fill="#8AB8D7"/>
<rect x="73.00" y="394.86" width="46.92" height="11.92" fill="#8AB8D7"/>
<rect x="119.92" y="394.86" width="46.92" height="11.92" fill="#E8F6EA"/>
<rect x="166.84" y="394.86" width="46.92" height="11.92" fill="#EDF8E0"/>
<rect x="213.77" y="394.86" width="46.92" height="11.92" fill="#FFF7B2"/>
<rect x="260.69" y="394.86" width="46.92" height="11.92" fill="#E8F6EA"/>
<rect x="307.61" y="394.86" width="46.92" height="11.92" fill="#FFF5AF"/>
<rect x="354.53" y="394.86" width="46.92" height="11.92" fill="#FFF7B2"/>
<rect x="401.46" y="394.86" width="46.92" height="11.92" fill="#FFFCBB"/>
<rect x="448.38" y="394.86" width="46.92" height="11.92" fill="#FFFCBB"/>
<rect x="495.30" y="394.86" width="46.92" height="11.92" fill="#6190C2"/>
<rect x="542.22" y="394.86" width="46.92" height="11.92" fill="#F5FBD2"/>
<rect x="589.14" y="394.86" width="46.92" height="11.92" fill="#E8F6EA"/>
<rect x="636.07" y="394.86" width="46.92" height="11.92" fill="#F7FCCF"/>
<rect x="682.99" y="394.86" width="46.92" height="11.92" fill="#9DC7DF"/>
<rect x="729.91" y="394.86" width="46.92" height="11.92" fill="#F5FBD2"/>
<rect x="776.83" y="394.86" width="46.92" height="11.92" fill="#6594C5"/>
<rect x="823.76" y="394.86" width="46.92" height="11.92" fill="#8AB8D7"/>
<rect x="870.68" y="394.86" width="46.92" height="11.92" fill="#8AB8D7"/>
<rect x="73.00" y="406.79" width="46.92" height="11.92" fill="#C3E0ED"/>
<rect x="119.92" y="406.79" width="46.92" height="11.92" fill="#FEEBA1"/>
<rect x="166.84" y="406.79" width="46.92" height="11.92" fill="#E8F6EA"/>
<rect x="213.77" y="406.79" width="46.92" height="11.92" fill="#8AB8D7"/>
<rect x="260.69" y="406.79" width="46.92" height="11.92" fill="#EBF7E3"/>
<rect x="307.61" y="406.79" width="46.92" height="11.92" fill="#FFF7B2"/>
<rect x="354.53" y="406.79" width="46.92" height="11.92" fill="#FEEFA7"/>
<rect x="401.46" y="406.79" width="46.92" height="11.92" fill="#D6EDF4"/>
<rect x="448.38" y="406.79" width="46.92" height="11.92" fill="#C8E3EF"/>
<rect x="495.30" y="406.79" width="46.92" height="11.92" fill="#B0D3E6"/>
<rect x="542.22" y="406.79" width="46.92" height="11.92" fill="#B5D7E8"/>
<rect x="589.14" y="406.79" width="46.92" height="11.92" fill="#E6F5EE"/>
<rect x="636.07" y="406.79" width="46.92" height="11.92" fill="#FEE496"/>
<rect x="682.99" y="406.79" width="46.92" height="11.92" fill="#C8E3EF"/>
<rect x="729.91" y="406.79" width="46.92" height="11.92" fill="#FEEFA7"/>
<rect x="776.83" y="406.79" width="46.92" height="11.92" fill="#DBF0F6"/>
<rect x="823.76" y="406.79" width="46.92" height="11.92" fill="#8AB8D7"/>
<rect x="870.68" y="406.79" width="46.92" height="11.92" fill="#EDF8E0"/>
<rect x="73.00" y="418.71" width="46.92" height="11.92" fill="#CDE6F1"/>
<rect x="119.92" y="418.71" width="46.92" height="11.92" fill="#FEEBA1"/>
<rect x="166.84" y="418.71" width="46.92" height="11.92" fill="#EBF7E3"/>
<rect x="213.77" y="418.71" width="46.92" height="11.92" fill="#E8F6EA"/>
<rect x="260.69" y="418.71" width="46.92" height="11.92" fill="#C3E0ED"/>
<rect x="307.61" y="418.71" width="46.92" height="11.92" fill="#BADAEA"/>
<rect x="354.53" y="418.71" width="46.92" height="11.92" fill="#C3E0ED"/>
<rect x="401.46" y="418.71" width="46.92" height="11.92" fill="#A7CDE3"/>
<rect x="448.38" y="418.71" width="46.92" height="11.92" fill="#CDE6F1"/>
<rect x="495.30" y="418.71" width="46.92" height="11.92" fill="#EDF8E0"/>
<rect x="542.22" y="418.71" width="46.92" height="11.92" fill="#FECC83"/>
<rect x="589.14" y="418.71" width="46.92" height="11.92" fill="#FEE090"/>
<rect x="636.07" y="418.71" width="46.92" height="11.92" fill="#E0F3F8"/>
<rect x="682.99" y="418.71" width="46.92" height="11.92" fill="#C3E0ED"/>
<rect x="729.91" y="418.71" width="46.92" height="11.92" fill="#BADAEA"/>
<rect x="776.83" y="418.71" width="46.92" height="11.92" fill="#E8F6EA"/>
<rect x="823.76" y="418.71" width="46.92" height="11.92" fill="#F5FBD2"/>
<rect x="870.68" y="418.71" width="46.92" height="11.92" fill="#DBF0F6"/>
<rect x="73.00" y="430.63" width="46.92" height="11.92" fill="#F7FCCF"/>
<rect x="119.92" y="430.63" width="46.92" height="11.92" fill="#EFF9DC"/>
<rect x="166.84" y="430.63" width="46.92" height="11.92" fill="#93C1DC"/>
<rect x="213.77" y="430.63" width="46.92" height="11.92" fill="#C8E3EF"/>
<rect x="260.69" y="430.63" width="46.92" height="11.92" fill="#D6EDF4"/>
<rect x="307.61" y="430.63" width="46.92" height="11.92" fill="#F7FCCF"/>
<rect x="354.53" y="430.63" width="46.92" height="11.92" fill="#6594C5"/>
<rect x="401.46" y="430.63" width="46.92" height="11.92" fill="#A7CDE3"/>
<rect x="448.38" y="430.63" width="46.92" height="11.92" fill="#BADAEA"/>
<rect x="495.30" y="430.63" width="46.92" height="11.92" fill="#A7CDE3"/>
<rect x="542.22" y="430.63" width="46.92" height="11.92" fill="#EFF9DC"/>
<rect x="589.14" y="430.63" width="46.92" height="11.92" fill="#C3E0ED"/>
<rect x="636.07" y="430.63" width="46.92" height="11.92" fill="#6190C2"/>
<rect x="682.99" y="430.63" width="46.92" height="11.92" fill="#CDE6F1"/>
<rect x="729.91" y="430.63" width="46.92" height="11.92" fill="#E4F4F1"/>
<rect x="776.83" y="430.63" width="46.92" height="11.92" fill="#B5D7E8"/>
<rect x="823.76" y="430.63" width="46.92" height="11.92" fill="#E0F3F8"/>
<rect x="870.68" y="430.63" width="46.92" height="11.92" fill="#A7CDE3"/>
<rect x="73.00" y="442.55" width="46.92" height="11.92" fill="#BADAEA"/>
<rect x="119.92" y="442.55" width="46.92" height="11.92" fill="#B5D7E8"/>
<rect x="166.84" y="442.55" width="46.92" height="11.92" fill="#D6EDF4"/>
<rect x="213.77" y="442.55" width="46.92" height="11.92" fill="#EFF9DC"/>
<rect x="260.69" y="442.55" width="46.92" height="11.92" fill="#C3E0ED"/>
<rect x="307.61" y="442.55" width="46.92" height="11.92" fill="#F5FBD2"/>
<rect x="354.53" y="442.55" width="46.92" height="11.92" fill="#9DC7DF"/>
<rect x="401.46" y="442.55" width="46.92" height="11.92" fill="#BADAEA"/>
<rect x="448.38" y="442.55" width="46.92" height="11.92" fill="#C3E0ED"/>
<rect x="495.30" y="442.55" width="46.92" height="11.92" fill="#B5D7E8"/>
<rect x="542.22" y="442.55" width="46.92" height="11.92" fill="#CDE6F1"/>
<rect x="589.14" y="442.55" width="46.92" height="11.92" fill="#E0F3F8"/>
<rect x="636.07" y="442.55" width="46.92" height="11.92" fill="#A7CDE3"/>
<rect x="682.99" y="442.55" width="46.92" height="11.92" fill="#CDE6F1"/>
<rect x="729.91" y="442.55" width="46.92" height="11.92" fill="#FCFEC4"/>
<rect x="776.83" y="442.55" width="46.92" height="11.92" fill="#B0D3E6"/>
<rect x="823.76" y="442.55" width="46.92" height="11.92" fill="#C8E3EF"/>
<rect x="870.68" y="442.55" width="46.92" height="11.92" fill="#EFF9DC"/>
<rect x="73.00" y="454.48" width="46.92" height="11.92" fill="#BADAEA"/>
<rect x="119.92" y="454.48" width="46.92" height="11.92" fill="#B5D7E8"/>
<rect x="166.84" y="454.48" width="46.92" height="11.92" fill="#C3E0ED"/>
<rect x="213.77" y="454.48" width="46.92" height="11.92" fill="#EDF8E0"/>
<rect x="260.69" y="454.48" width="46.92" height="11.92" fill="#CDE6F1"/>
<rect x="307.61" y="454.48" width="46.92" height="11.92" fill="#FFFCBB"/>
<rect x="354.53" y="454.48" width="46.92" height="11.92" fill="#9DC7DF"/>
<rect x="401.46" y="454.48" width="46.92" height="11.92" fill="#BADAEA"/>
<rect x="448.38" y="454.48" width="46.92" height="11.92" fill="#C8E3EF"/>
<rect x="495.30" y="454.48" width="46.92" height="11.92" fill="#B5D7E8"/>
<rect x="542.22" y="454.48" width="46.92" height="11.92" fill="#CDE6F1"/>
<rect x="589.14" y="454.48" width="46.92" height="11.92" fill="#E4F4F1"/>
<rect x="636.07" y="454.48" width="46.92" height="11.92" fill="#A7CDE3"/>
<rect x="682.99" y="454.48" width="46.92" height="11.92" fill="#D6EDF4"/>
<rect x="729.91" y="454.48" width="46.92" height="11.92" fill="#FCFEC4"/>
<rect x="776.83" y="454.48" width="46.92" height="11.92" fill="#A7CDE3"/>
<rect x="823.76" y="454.48" width="46.92" height="11.92" fill="#8AB8D7"/>
<rect x="870.68" y="454.48" width="46.92" height="11.92" fill="#CDE6F1"/>
</g>
<path d="M73.5 72.0V467.0M119.5 72.0V467.0M166.5 72.0V467.0M213.5 72.0V467.0M260.5 72.0V467.0M307.5 72.0V467.0M354.5 72.0V467.0M401.5 72.0V467.0M448.5 72.0V467.0M495.5 72.0V467.0M542.5 72.0V467.0M589.5 72.0V467.0M636.5 72.0V467.0M682.5 72.0V467.0M729.5 72.0V467.0M776.5 72.0V467.0M823.5 72.0V467.0M870.5 72.0V467.0M917.5 72.0V467.0M73.0 72.5H918.0M73.0 84.5H918.0M73.0 96.5H918.0M73.0 108.5H918.0M73.0 120.5H918.0M73.0 132.5H918.0M73.0 144.5H918.0M73.0 156.5H918.0M73.0 168.5H918.0M73.0 180.5H918.0M73.0 192.5H918.0M73.0 204.5H918.0M73.0 216.5H918.0M73.0 227.5H918.0M73.0 239.5H918.0M73.0 251.5H918.0M73.0 263.5H918.0M73.0 275.5H918.0M73.0 287.5H918.0M73.0 299.5H918.0M73.0 311.5H918.0M73.0 323.5H918.0M73.0 335.5H918.0M73.0 347.5H918.0M73.0 359.5H918.0M73.0 371.5H918.0M73.0 382.5H918.0M73.0 394.5H918.0M73.0 406.5H918.0M73.0 418.5H918.0M73.0 430.5H918.0M73.0 442.5H918.0M73.0 454.5H918.0M73.0 466.5H918.0" fill="none" stroke="#8C8C8C" stroke-width="0.8"/>
<g class="dot">
<text x="96.06" y="83.01">•</text>
<text x="143.38" y="83.01">•</text>
<text x="519.26" y="83.01">•</text>
<text x="706.20" y="83.01">•</text>
<text x="753.07" y="82.91">•</text>
<text x="96.06" y="95.53">•</text>
<text x="143.38" y="94.93">•</text>
<text x="96.06" y="106.46">•</text>
<text x="143.38" y="106.76">•</text>
<text x="753.47" y="106.76">•</text>
<text x="96.06" y="117.18">•</text>
<text x="143.38" y="119.48">•</text>
<text x="753.47" y="118.38">•</text>
<text x="188.31" y="130.40">•</text>
<text x="847.72" y="131.30">•</text>
<text x="893.24" y="130.20">•</text>
<text x="237.83" y="143.12">•</text>
<text x="800.49" y="167.07">•</text>
<text x="800.49" y="178.89">•</text>
<text x="800.49" y="191.82">•</text>
<text x="376.59" y="201.34">•</text>
<text x="190.61" y="214.46">•</text>
<text x="237.83" y="214.46">•</text>
<text x="190.61" y="226.28">•</text>
<text x="237.83" y="226.28">•</text>
<text x="376.59" y="238.11">•</text>
<text x="376.59" y="251.13">•</text>
<text x="374.99" y="285.50">•</text>
<text x="236.73" y="381.28">•</text>
<text x="330.07" y="381.28">•</text>
<text x="658.73" y="381.28">•</text>
<text x="188.31" y="394.30">•</text>
<text x="235.53" y="392.90">•</text>
<text x="285.15" y="392.90">•</text>
<text x="518.16" y="404.43">•</text>
<text x="659.23" y="416.75">•</text>
<text x="565.38" y="428.37">•</text>
<text x="613.61" y="429.47">•</text>
<text x="658.73" y="440.39">•</text>
</g>
<g class="rl">
<text x="921.10" y="84.00" textLength="157.89" lengthAdjust="spacingAndGlyphs">Proteobacteria_unclassified</text>
<text x="921.10" y="95.95" textLength="45.73" lengthAdjust="spacingAndGlyphs">Thauera</text>
<text x="921.10" y="107.91" textLength="73.95" lengthAdjust="spacingAndGlyphs">Rhodobacter</text>
<text x="921.10" y="119.87" textLength="201.77" lengthAdjust="spacingAndGlyphs">Gammaproteobacteria_unclassified</text>
<text x="921.10" y="131.82" textLength="87.76" lengthAdjust="spacingAndGlyphs">Rhodanobacter</text>
<text x="921.10" y="143.78" textLength="121.61" lengthAdjust="spacingAndGlyphs">Bacteria_unclassified</text>
<text x="921.10" y="155.73" textLength="73.49" lengthAdjust="spacingAndGlyphs">Simplicispira</text>
<text x="921.10" y="167.69" textLength="88.71" lengthAdjust="spacingAndGlyphs">Dechloromonas</text>
<text x="921.10" y="179.64" textLength="57.18" lengthAdjust="spacingAndGlyphs">Leptothrix</text>
<text x="921.10" y="191.59" textLength="56.77" lengthAdjust="spacingAndGlyphs">Rubrivivax</text>
<text x="921.10" y="203.55" textLength="54.23" lengthAdjust="spacingAndGlyphs">Azoarcus</text>
<text x="921.10" y="215.50" textLength="93.95" lengthAdjust="spacingAndGlyphs">Bacteria_norank</text>
<text x="921.10" y="227.46" textLength="81.80" lengthAdjust="spacingAndGlyphs">X_unclassified</text>
<text x="921.10" y="239.41" textLength="74.76" lengthAdjust="spacingAndGlyphs">Alicycliphilus</text>
<text x="921.10" y="251.37" textLength="78.16" lengthAdjust="spacingAndGlyphs">Sideroxydans</text>
<text x="921.10" y="263.32" textLength="180.26" lengthAdjust="spacingAndGlyphs">environmental_samples_norank</text>
<text x="921.10" y="275.28" textLength="181.29" lengthAdjust="spacingAndGlyphs">Rhodobacteraceae_unclassified</text>
<text x="921.10" y="287.24" textLength="188.21" lengthAdjust="spacingAndGlyphs">Alphaproteobacteria_unclassified</text>
<text x="921.10" y="299.19" textLength="163.30" lengthAdjust="spacingAndGlyphs">Burkholderiales_unclassified</text>
<text x="921.10" y="311.14" textLength="81.61" lengthAdjust="spacingAndGlyphs">Pseudomonas</text>
<text x="921.10" y="323.10" textLength="169.24" lengthAdjust="spacingAndGlyphs">Rhodocyclaceae_unclassified</text>
<text x="921.10" y="335.06" textLength="293.33" lengthAdjust="spacingAndGlyphs">Comamonadaceae_unclassified_comamonadaceae</text>
<text x="921.10" y="347.01" textLength="175.62" lengthAdjust="spacingAndGlyphs">Rhodospirillaceae_unclassified</text>
<text x="921.10" y="358.96" textLength="70.76" lengthAdjust="spacingAndGlyphs">Azospirillum</text>
<text x="921.10" y="370.92" textLength="96.89" lengthAdjust="spacingAndGlyphs">Magnetospirillum</text>
<text x="921.10" y="382.88" textLength="63.54" lengthAdjust="spacingAndGlyphs">Halomonas</text>
<text x="921.10" y="394.83" textLength="173.12" lengthAdjust="spacingAndGlyphs">Gammaproteobacteria_norank</text>
<text x="921.10" y="406.79" textLength="182.31" lengthAdjust="spacingAndGlyphs">Betaproteobacteria_unclassified</text>
<text x="921.10" y="418.74" textLength="51.93" lengthAdjust="spacingAndGlyphs">Zoogloea</text>
<text x="921.10" y="430.69" textLength="50.51" lengthAdjust="spacingAndGlyphs">Azospira</text>
<text x="921.10" y="442.65" textLength="114.68" lengthAdjust="spacingAndGlyphs">Pseudogulbenkiania</text>
<text x="921.10" y="454.61" textLength="76.15" lengthAdjust="spacingAndGlyphs">Aromatoleum</text>
<text x="921.10" y="466.56" textLength="75.42" lengthAdjust="spacingAndGlyphs">Marinobacter</text>
</g>
<g class="cl">
<text transform="translate(89.51,469.80) rotate(90)" textLength="27.09" lengthAdjust="spacingAndGlyphs">TOC</text>
<text transform="translate(136.43,469.80) rotate(90)" textLength="17.72" lengthAdjust="spacingAndGlyphs">TC</text>
<text transform="translate(183.36,469.80) rotate(90)" textLength="72.53" lengthAdjust="spacingAndGlyphs">Temperature</text>
<text transform="translate(230.28,469.80) rotate(90)" textLength="19.97" lengthAdjust="spacingAndGlyphs">ST</text>
<text transform="translate(277.20,469.80) rotate(90)" textLength="16.97" lengthAdjust="spacingAndGlyphs">pH</text>
<text transform="translate(324.12,469.80) rotate(90)" textLength="78.78" lengthAdjust="spacingAndGlyphs">Sconductivity</text>
<text transform="translate(371.04,469.80) rotate(90)" textLength="58.72" lengthAdjust="spacingAndGlyphs">Smoisture</text>
<text transform="translate(417.97,469.80) rotate(90)" textLength="25.85" lengthAdjust="spacingAndGlyphs">STC</text>
<text transform="translate(464.89,469.80) rotate(90)" textLength="27.33" lengthAdjust="spacingAndGlyphs">SNH</text>
<text transform="translate(511.81,469.80) rotate(90)" textLength="66.10" lengthAdjust="spacingAndGlyphs">Waterdepth</text>
<text transform="translate(558.73,469.80) rotate(90)" textLength="17.20" lengthAdjust="spacingAndGlyphs">TN</text>
<text transform="translate(605.66,469.80) rotate(90)" textLength="26.15" lengthAdjust="spacingAndGlyphs">STP</text>
<text transform="translate(652.58,469.80) rotate(90)" textLength="16.49" lengthAdjust="spacingAndGlyphs">TP</text>
<text transform="translate(699.50,469.80) rotate(90)" textLength="70.82" lengthAdjust="spacingAndGlyphs">Conductivity</text>
<text transform="translate(746.42,469.80) rotate(90)" textLength="25.12" lengthAdjust="spacingAndGlyphs">SpH</text>
<text transform="translate(793.34,469.80) rotate(90)" textLength="27.56" lengthAdjust="spacingAndGlyphs">SNO</text>
<text transform="translate(840.27,469.80) rotate(90)" textLength="119.89" lengthAdjust="spacingAndGlyphs">Average temperature</text>
<text transform="translate(887.19,469.80) rotate(90)" textLength="69.31" lengthAdjust="spacingAndGlyphs">precipitation</text>
</g>
<defs><linearGradient id="lg" x1="0" y1="1" x2="0" y2="0">
<stop offset="0.0000" stop-color="#4575B4"/>
<stop offset="0.1667" stop-color="#91BFDB"/>
<stop offset="0.3333" stop-color="#E0F3F8"/>
<stop offset="0.5000" stop-color="#FFFFBF"/>
<stop offset="0.6667" stop-color="#FEE090"/>
<stop offset="0.8333" stop-color="#FC8D59"/>
<stop offset="1.0000" stop-color="#D73027"/>
</linearGradient></defs>
<rect x="1223.5" y="72.5" width="13.8" height="198.4" fill="url(#lg)"/>
<g class="lg">
<text x="1242.3" y="79.25" textLength="17.0" lengthAdjust="spacingAndGlyphs">0.8</text>
<text x="1242.3" y="111.52" textLength="17.0" lengthAdjust="spacingAndGlyphs">0.6</text>
<text x="1242.3" y="143.79" textLength="17.0" lengthAdjust="spacingAndGlyphs">0.4</text>
<text x="1242.3" y="176.06" textLength="17.0" lengthAdjust="spacingAndGlyphs">0.2</text>
<text x="1242.3" y="208.33" textLength="7.0" lengthAdjust="spacingAndGlyphs">0</text>
<text x="1242.3" y="240.60" textLength="21.6" lengthAdjust="spacingAndGlyphs">-0.2</text>
<text x="1242.3" y="272.87" textLength="21.6" lengthAdjust="spacingAndGlyphs">-0.4</text>
</g>
</svg></body></html>
